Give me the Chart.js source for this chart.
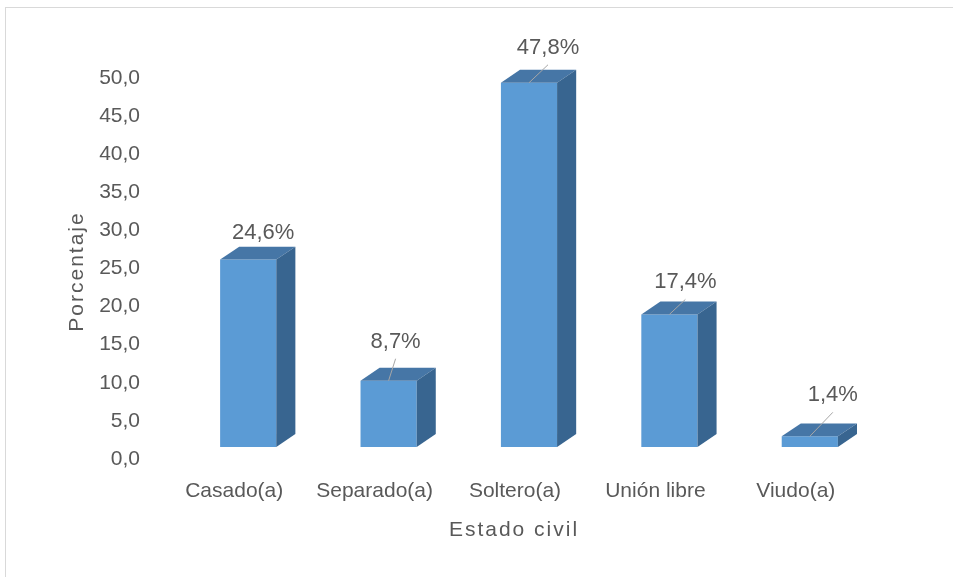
<!DOCTYPE html>
<html>
<head>
<meta charset="utf-8">
<script src="https://cdn.jsdelivr.net/npm/chart.js"></script>
<style>
  html, body { margin: 0; background: #fff; }
  #wrap { width: 953px; height: 577px; }
</style>
</head>
<body>
<div id="wrap"><canvas id="myChart"></canvas></div>
<script>
const categories = ["Casado(a)", "Separado(a)", "Soltero(a)", "Unión libre", "Viudo(a)"];
const percentages = [24.6, 8.7, 47.8, 17.4, 1.4];
const yTicks = { min: 0, max: 50, step: 5 };
// where each value label sits, relative to the top front edge of its column
const labelShift = [[15, -27], [7, -39], [19, -35], [16, -32], [23, -41]];

const FONT = "'Liberation Sans', Arial, sans-serif";
const GRAY = "#595959";

const comma = (v) => v.toFixed(1).replace(".", ",");

// white page with the thin frame line round the chart
const frame = {
  id: "frame",
  beforeDraw(chart) {
    const c = chart.ctx;
    c.save();
    c.fillStyle = "#fff";
    c.fillRect(0, 0, chart.width, chart.height);
    c.strokeStyle = "#D9D9D9";
    c.lineWidth = 1;
    c.strokeRect(5.5, 7.5, chart.width + 10, chart.height + 10);
    c.restore();
  }
};

// top and side faces of the columns, then the value labels
const bars3d = {
  id: "bars3d",
  afterDatasetsDraw(chart) {
    const c = chart.ctx;
    const meta = chart.getDatasetMeta(0);
    c.save();
    meta.data.forEach((bar, i) => {
      const w = bar.width;
      const L = bar.x - w / 2, R = bar.x + w / 2, T = bar.y, B = bar.base;
      const dx = w * 0.34, dy = w * 0.23;

      c.fillStyle = "#4676A6";
      c.beginPath();
      c.moveTo(L, T);
      c.lineTo(L + dx, T - dy);
      c.lineTo(R + dx, T - dy);
      c.lineTo(R, T);
      c.closePath();
      c.fill();

      c.fillStyle = "#386590";
      c.beginPath();
      c.moveTo(R, T);
      c.lineTo(R + dx, T - dy);
      c.lineTo(R + dx, B - dy);
      c.lineTo(R, B);
      c.closePath();
      c.fill();

      const lx = bar.x + labelShift[i][0];
      const ly = T + labelShift[i][1];
      const ex = lx, ey = ly + 17;
      if (Math.hypot(ex - bar.x, ey - T) > 20) {
        c.strokeStyle = "#A6A6A6";
        c.lineWidth = 1;
        c.beginPath();
        c.moveTo(bar.x, T);
        c.lineTo(ex, ey);
        c.stroke();
      }

      c.fillStyle = GRAY;
      c.font = "22px " + FONT;
      c.textAlign = "center";
      c.textBaseline = "middle";
      c.fillText(comma(percentages[i]) + "%", lx, ly);
    });
    c.restore();
  }
};

// axis titles, letter spaced
const axisTitles = {
  id: "axisTitles",
  afterDraw(chart) {
    const c = chart.ctx;
    const a = chart.chartArea;
    c.save();
    c.fillStyle = GRAY;
    c.font = "21px " + FONT;
    c.letterSpacing = "2px";
    c.textAlign = "center";
    c.textBaseline = "middle";
    c.fillText("Estado civil", (a.left + a.right) / 2 - 15, 530);
    c.translate(77, (a.top + a.bottom) / 2 + 15);
    c.rotate(-Math.PI / 2);
    c.fillText("Porcentaje", 0, 0);
    c.restore();
  }
};

var ctx = document.getElementById("myChart").getContext("2d");
var myBarChart = new Chart(ctx, {
  type: "bar",
  data: {
    labels: categories,
    datasets: [{
      label: "Porcentaje",
      data: percentages,
      backgroundColor: "#5B9BD5",
      borderWidth: 0,
      barPercentage: 0.4,
      categoryPercentage: 1
    }]
  },
  options: {
    responsive: true,
    maintainAspectRatio: false,
    animation: false,
    layout: { padding: { left: 0, right: 73, top: 66, bottom: 0 } },
    plugins: {
      legend: { display: false },
      tooltip: { enabled: false }
    },
    scales: {
      x: {
        grid: { display: false, drawTicks: false },
        border: { display: false },
        ticks: {
          color: GRAY,
          font: { family: FONT, size: 21 },
          padding: 32,
          labelOffset: -14,
          maxRotation: 0,
          autoSkip: false
        },
        afterFit(s) { s.height = 130; }
      },
      y: {
        min: yTicks.min,
        max: yTicks.max,
        grid: { display: false, drawTicks: false },
        border: { display: false },
        ticks: {
          stepSize: yTicks.step,
          color: GRAY,
          font: { family: FONT, size: 21 },
          padding: 38,
          labelOffset: 12,
          callback: (v) => comma(v)
        },
        afterFit(s) { s.width = 178; }
      }
    }
  },
  plugins: [frame, bars3d, axisTitles]
});
</script>
</body>
</html>
